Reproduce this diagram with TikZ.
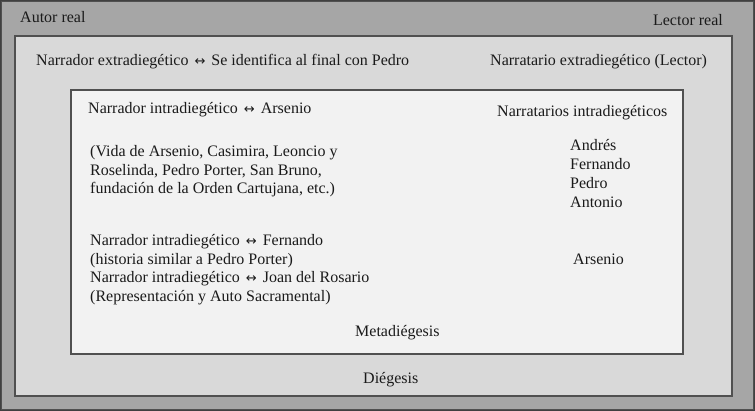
\documentclass[tikz,border=0pt]{standalone}
\usepackage{fontspec}
\setmainfont{Liberation Serif}
\newfontfamily\arrowfont{DejaVu Sans}
\newcommand{\lrarr}{\hspace{2pt}{\arrowfont\fontsize{13}{19}\selectfont ↔}\hspace{2pt}}
\definecolor{outerfill}{HTML}{A6A6A6}
\definecolor{midfill}{HTML}{D9D9D9}
\definecolor{innerfill}{HTML}{F2F2F2}
\definecolor{edge}{HTML}{505050}
\definecolor{ink}{HTML}{1A1A1A}
\begin{document}
\begin{tikzpicture}[x=1pt,y=-1pt,
  frame/.style={draw=edge,line width=1.3pt},
  lbl/.style={inner sep=0pt,anchor=base west,text=ink,font=\fontsize{16}{19}\selectfont},
  lblr/.style={lbl,anchor=base east}]
\useasboundingbox (0,0) rectangle (755,411);
\fill[black!75] (0,0) rectangle (755,411);
\draw[frame,fill=outerfill] (1.5,1.5) rectangle (753.5,409.5);
\draw[frame,fill=midfill] (15,36) rectangle (732,396);
\draw[frame,fill=innerfill] (71,90) rectangle (683,354);

\node[lbl] (autor) at (20,22.5) {Autor real};
\node[lblr] (lector) at (723,25.5) {Lector real};
\node[lbl] (nextra) at (36,66) {Narrador extradiegético \lrarr\ Se identifica al final con Pedro};
\node[lbl] (ntextra) at (490,66) {Narratario extradiegético (Lector)};
\node[lbl] (nintra) at (88,114) {Narrador intradiegético \lrarr\ Arsenio};
\node[lbl] (ntintra) at (497,116.5) {Narratarios intradiegéticos};
\node[lbl] (v1) at (90,157) {(Vida de Arsenio, Casimira, Leoncio y};
\node[lbl] (v2) at (90,175.5) {Roselinda, Pedro Porter, San Bruno,};
\node[lbl] (v3) at (90,194) {fundación de la Orden Cartujana, etc.)};
\node[lbl] (andres) at (570,150.5) {Andrés};
\node[lbl] (fernando) at (570,169.5) {Fernando};
\node[lbl] (pedro) at (570,188.5) {Pedro};
\node[lbl] (antonio) at (570,207.5) {Antonio};
\node[lbl] (f1) at (90,246) {Narrador intradiegético \lrarr\ Fernando};
\node[lbl] (f2) at (90,264.5) {(historia similar a Pedro Porter)};
\node[lbl] (f3) at (90,283) {Narrador intradiegético \lrarr\ Joan del Rosario};
\node[lbl] (f4) at (90,301.5) {(Representación y Auto Sacramental)};
\node[lbl] (arsenio) at (573,264.5) {Arsenio};
\node[lbl] (meta) at (355,337) {Metadiégesis};
\node[lbl] (dieg) at (363,383.5) {Diégesis};
\end{tikzpicture}
\end{document}
